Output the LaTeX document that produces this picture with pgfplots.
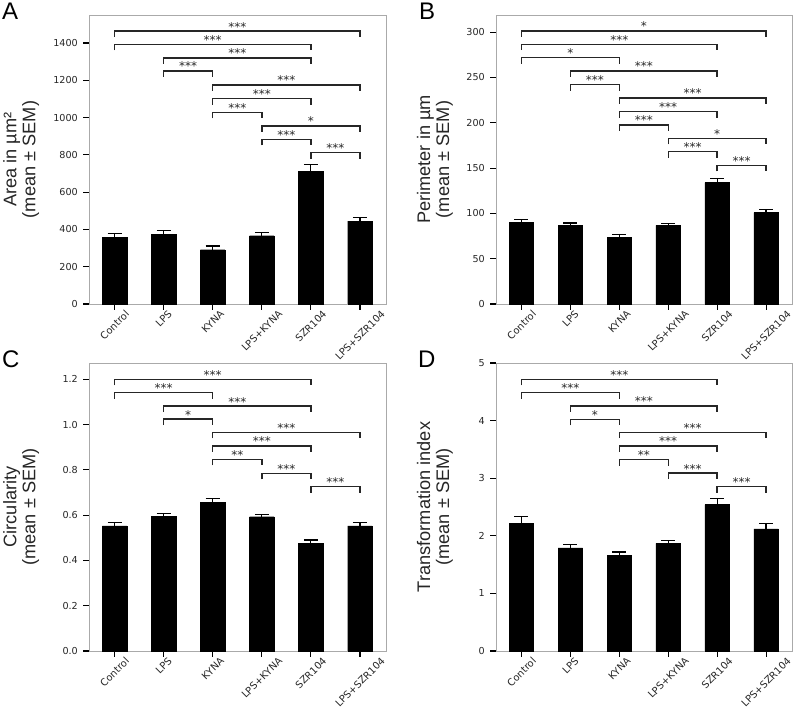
\documentclass[border=0pt]{standalone}
\usepackage{graphicx}
\usepackage{pgfplots}
\pgfplotsset{compat=1.18}
\usepackage{fontspec}
\setmainfont{DejaVu Sans}
\newfontfamily\labfont{Liberation Sans}

\definecolor{frame}{RGB}{170,170,170}
\definecolor{ink}{RGB}{38,38,38}

% significance bracket: from bar #1 to bar #2 at height #3, text #4
\newcommand{\br}[4]{\draw[brk] ([yshift=-6pt]axis cs:#1,#3) -- (axis cs:#1,#3)
  -- node[star]{#4} (axis cs:#2,#3) -- ([yshift=-6pt]axis cs:#2,#3);}

\tikzset{
  brk/.style={ink, line width=1.4pt},
  star/.style={midway, anchor=base, inner sep=0pt, yshift=0pt,
    font=\fontsize{12}{12}\selectfont, text=ink},
  letter/.style={anchor=base west, inner sep=0pt,
    font=\labfont\fontsize{24}{24}\selectfont},
}

\pgfplotsset{
  panel/.style={
    scale only axis, width=297pt, height=289pt, anchor=south west,
    ybar, bar width=24.5pt,
    xmin=-0.52, xmax=5.53, ymin=0,
    clip=false,
    axis line style={frame, line width=0.9pt},
    tick pos=left, tick align=outside,
    major tick length=6pt,
    every tick/.style={black, line width=1.1pt},
    xtick={0,...,5},
    xticklabels={\rotatebox{45}{Control},\rotatebox{45}{LPS},\rotatebox{45}{KYNA},
      \rotatebox{45}{LPS+KYNA},\rotatebox{45}{SZR104},\rotatebox{45}{LPS+SZR104}},
    x tick label style={anchor=north, inner sep=0pt, yshift=0.5pt,
      font=\fontsize{9.9}{10}\selectfont, text=ink},
    y tick label style={anchor=east, inner sep=0pt, xshift=-5pt,
      font=\fontsize{9.6}{10}\selectfont, text=ink},
    /pgf/number format/assume math mode=true,
    /pgf/number format/1000 sep={},
    scaled y ticks=false,
    ylabel style={anchor=center, align=center, text=ink,
      font=\labfont\fontsize{18.2}{19}\selectfont},
  },
  bars/.style={fill=black, draw=black,
    error bars/.cd, y dir=plus, y explicit,
    error bar style={black, line width=1.2pt},
    error mark options={black, line width=1.2pt, mark size=7pt, rotate=90}},
}

\begin{document}
\begin{tikzpicture}
\useasboundingbox (0,0) rectangle (796pt,708pt);

\node[letter] at (2pt,688pt) {A};
\node[letter] at (419pt,688pt) {B};
\node[letter] at (2pt,340pt) {C};
\node[letter] at (418pt,340pt) {D};

% A: area
\begin{axis}[panel, at={(89pt,404pt)}, ymax=1550,
    ytick={0,200,...,1400},
    ylabel={Area in µm²\\(mean ± SEM)},
    ylabel style={at={(axis description cs:-0.228,0.5)}}]
  \addplot[bars] coordinates {
    (0,357) +- (0,19)
    (1,373) +- (0,19)
    (2,291) +- (0,20)
    (3,366) +- (0,16)
    (4,712) +- (0,35)
    (5,445) +- (0,20)};
  \br{0}{5}{1464}{***}
  \br{0}{4}{1393}{***}
  \br{1}{4}{1320}{***}
  \br{1}{2}{1250}{***}
  \br{2}{5}{1175}{***}
  \br{2}{4}{1102}{***}
  \br{2}{3}{1028}{***}
  \br{3}{5}{955}{*}
  \br{3}{4}{883}{***}
  \br{4}{5}{812}{***}
\end{axis}

% B: perimeter
\begin{axis}[panel, at={(496pt,404pt)}, width=296pt, ymax=319,
    ytick={0,50,...,300},
    ylabel={Perimeter in µm\\(mean ± SEM)},
    ylabel style={at={(axis description cs:-0.206,0.5)}}]
  \addplot[bars] coordinates {
    (0,89.8) +- (0,3.7)
    (1,86.5) +- (0,2.8)
    (2,73.6) +- (0,2.7)
    (3,86.9) +- (0,2.3)
    (4,134.0) +- (0,4.8)
    (5,100.8) +- (0,3.4)};
  \br{0}{5}{301.4}{*}
  \br{0}{4}{286.7}{***}
  \br{0}{2}{272.0}{*}
  \br{1}{4}{257.3}{***}
  \br{1}{2}{242.2}{***}
  \br{2}{5}{227.5}{***}
  \br{2}{4}{212.4}{***}
  \br{2}{3}{197.6}{***}
  \br{3}{5}{182.9}{*}
  \br{3}{4}{168.2}{***}
  \br{4}{5}{153.1}{***}
\end{axis}

% C: circularity
\begin{axis}[panel, at={(89pt,57pt)}, height=288pt, ymax=1.272,
    ytick={0,0.2,...,1.2},
    yticklabel style={/pgf/number format/.cd, fixed, fixed zerofill, precision=1},
    ylabel={Circularity\\(mean ± SEM)},
    ylabel style={at={(axis description cs:-0.228,0.5)}}]
  \addplot[bars] coordinates {
    (0,0.553) +- (0,0.015)
    (1,0.596) +- (0,0.013)
    (2,0.656) +- (0,0.018)
    (3,0.593) +- (0,0.011)
    (4,0.475) +- (0,0.015)
    (5,0.553) +- (0,0.013)};
  \br{0}{4}{1.200}{***}
  \br{0}{2}{1.141}{***}
  \br{1}{4}{1.082}{***}
  \br{1}{2}{1.024}{*}
  \br{2}{5}{0.966}{***}
  \br{2}{4}{0.906}{***}
  \br{2}{3}{0.846}{**}
  \br{3}{4}{0.785}{***}
  \br{4}{5}{0.726}{***}
\end{axis}

% D: transformation index
\begin{axis}[panel, at={(496pt,57pt)}, width=296pt, height=288pt, ymax=5,
    ytick={0,1,...,5},
    ylabel={Transformation index\\(mean ± SEM)},
    ylabel style={at={(axis description cs:-0.206,0.5)}}]
  \addplot[bars] coordinates {
    (0,2.22) +- (0,0.12)
    (1,1.79) +- (0,0.06)
    (2,1.66) +- (0,0.06)
    (3,1.87) +- (0,0.045)
    (4,2.54) +- (0,0.11)
    (5,2.12) +- (0,0.09)};
  \br{0}{4}{4.717}{***}
  \br{0}{2}{4.486}{***}
  \br{1}{4}{4.254}{***}
  \br{1}{2}{4.023}{*}
  \br{2}{5}{3.798}{***}
  \br{2}{4}{3.561}{***}
  \br{2}{3}{3.324}{**}
  \br{3}{4}{3.087}{***}
  \br{4}{5}{2.855}{***}
\end{axis}
\end{tikzpicture}
\end{document}
